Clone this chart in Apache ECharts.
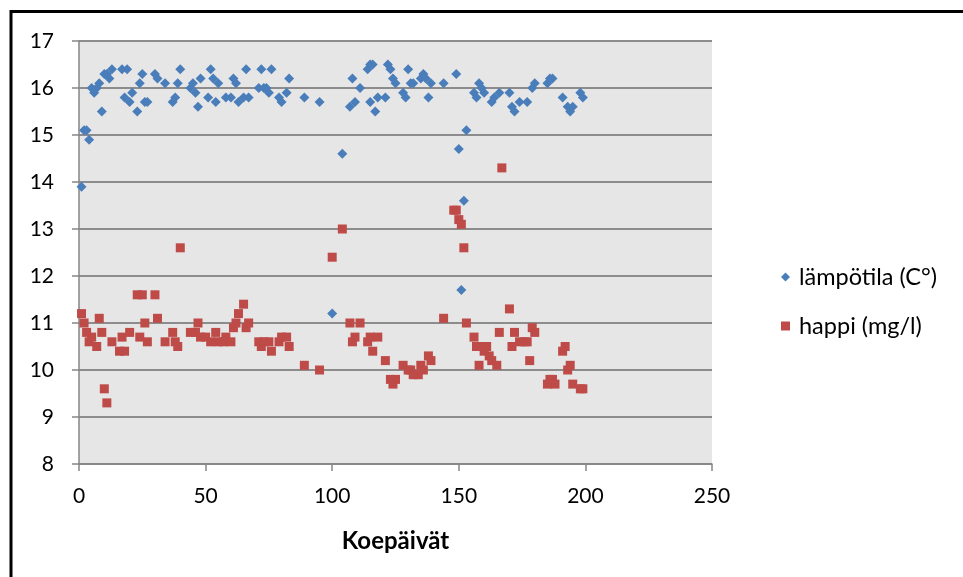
<!DOCTYPE html>
<html>
<head>
<meta charset="utf-8">
<script src="https://cdn.jsdelivr.net/npm/echarts@6/dist/echarts.min.js"></script>
<style>
html,body{margin:0;padding:0;background:#fff;}
#c{width:963px;height:577px;}
</style>
</head>
<body>
<div id="c"></div>
<script>
// Temperature (lämpötila) series: day / value
var tempDays = [1,2,3,4,5,6,7,8,9,10,11,12,13,17,18,19,20,21,23,24,25,26,27,30,31,34,37,38,39,40,44,45,46,47,48,51,52,53,54,55,58,60,61,62,63,65,66,67,71,72,73,74,75,76,79,80,82,83,89,95,100,104,107,108,109,111,114,115,116,115,117,118,121,122,123,124,125,128,129,130,131,132,135,136,137,138,139,144,149,150,151,152,153,156,157,158,159,160,163,164,166,170,171,172,174,177,179,180,185,186,187,191,193,194,195,198,199];
var tempVals = [13.9,15.1,15.1,14.9,16.0,15.9,16.0,16.1,15.5,16.3,16.3,16.2,16.4,16.4,15.8,16.4,15.7,15.9,15.5,16.1,16.3,15.7,15.7,16.3,16.2,16.1,15.7,15.8,16.1,16.4,16.0,16.1,15.9,15.6,16.2,15.8,16.4,16.2,15.7,16.1,15.8,15.8,16.2,16.1,15.7,15.8,16.4,15.8,16.0,16.4,16.0,16.0,15.9,16.4,15.8,15.7,15.9,16.2,15.8,15.7,11.2,14.6,15.6,16.2,15.7,16.0,16.4,16.5,16.5,15.7,15.5,15.8,15.8,16.5,16.4,16.2,16.1,15.9,15.8,16.4,16.1,16.1,16.2,16.3,16.2,15.8,16.1,16.1,16.3,14.7,11.7,13.6,15.1,15.9,15.8,16.1,16.0,15.9,15.7,15.8,15.9,15.9,15.6,15.5,15.7,15.7,16.0,16.1,16.1,16.2,16.2,15.8,15.6,15.5,15.6,15.9,15.8];

// Oxygen (happi) series: day / value
var oxyDays = [1,2,3,4,5,7,8,9,10,11,13,16,17,18,20,23,24,25,26,27,30,31,34,37,38,39,40,44,46,47,48,50,52,54,55,57,58,60,61,62,63,65,66,67,71,72,73,75,76,79,80,82,83,89,95,100,104,107,108,109,111,114,115,116,118,121,123,124,125,128,130,131,132,134,135,136,138,139,144,148,149,150,151,152,153,156,157,158,159,160,161,162,163,165,166,167,170,171,172,174,176,177,178,179,180,185,186,187,188,191,192,193,194,195,198,199];
var oxyVals = [11.2,11.0,10.8,10.6,10.7,10.5,11.1,10.8,9.6,9.3,10.6,10.4,10.7,10.4,10.8,11.6,10.7,11.6,11.0,10.6,11.6,11.1,10.6,10.8,10.6,10.5,12.6,10.8,10.8,11.0,10.7,10.7,10.6,10.8,10.6,10.6,10.7,10.6,10.9,11.0,11.2,11.4,10.9,11.0,10.6,10.5,10.6,10.6,10.4,10.6,10.7,10.7,10.5,10.1,10.0,12.4,13.0,11.0,10.6,10.7,11.0,10.6,10.7,10.4,10.7,10.2,9.8,9.7,9.8,10.1,10.0,10.0,9.9,9.9,10.1,10.0,10.3,10.2,11.1,13.4,13.4,13.2,13.1,12.6,11.0,10.7,10.5,10.1,10.5,10.4,10.5,10.3,10.2,10.1,10.8,14.3,11.3,10.5,10.8,10.6,10.6,10.6,10.2,10.9,10.8,9.7,9.8,9.8,9.7,10.4,10.5,10.0,10.1,9.7,9.6,9.6];

var seriesNames = ['lämpötila (C°)', 'happi (mg/l)'];
var xTitle = 'Koepäivät';

function pairs(xs, ys){ var o=[]; for(var i=0;i<xs.length;i++){o.push([xs[i], ys[i]]);} return o; }

var FONT = 'Lato';
var chart = echarts.init(document.getElementById('c'), null, {renderer:'canvas'});
chart.setOption({
  animation:false,
  backgroundColor:'#ffffff',
  graphic:[{type:'rect', shape:{x:11, y:11.5, width:980, height:600}, style:{fill:'none', stroke:'#000', lineWidth:3}, z:100}],
  grid:{left:79, top:41, right:251, bottom:113, show:true, backgroundColor:'#e6e6e6', borderWidth:0},
  legend:{
    orient:'vertical', left:776, top:260, itemWidth:9, itemHeight:9, itemGap:25,
    textStyle:{fontFamily:FONT, fontSize:23.5, color:'#000', lineHeight:24, padding:[0,0,0,4]},
    data:[{name:seriesNames[0], icon:'diamond'},{name:seriesNames[1], icon:'rect'}]
  },
  xAxis:{
    type:'value', min:0, max:250, interval:50,
    name:xTitle, nameLocation:'middle', nameGap:65,
    nameTextStyle:{fontFamily:FONT, fontSize:24, fontWeight:'bold', color:'#000'},
    axisLine:{show:true, lineStyle:{color:'#868686', width:1.5}},
    axisTick:{show:true, length:7, lineStyle:{color:'#868686', width:1.5}},
    axisLabel:{fontFamily:FONT, fontSize:21, color:'#000', margin:22},
    splitLine:{show:false}
  },
  yAxis:{
    type:'value', min:8, max:17, interval:1,
    axisLine:{show:true, lineStyle:{color:'#868686', width:1.5}},
    axisTick:{show:true, length:7, lineStyle:{color:'#868686', width:1.5}},
    axisLabel:{fontFamily:FONT, fontSize:21, color:'#000', margin:25},
    splitLine:{show:true, lineStyle:{color:'#8c8c8c', width:2}}
  },
  series:[
    {name:seriesNames[0], type:'scatter', symbol:'diamond', symbolSize:10, itemStyle:{color:'#4a7ebb', opacity:1}, data:pairs(tempDays,tempVals)},
    {name:seriesNames[1], type:'scatter', symbol:'rect', symbolSize:9, itemStyle:{color:'#be4b48', opacity:1}, data:pairs(oxyDays,oxyVals)}
  ]
});
</script>
</body>
</html>
